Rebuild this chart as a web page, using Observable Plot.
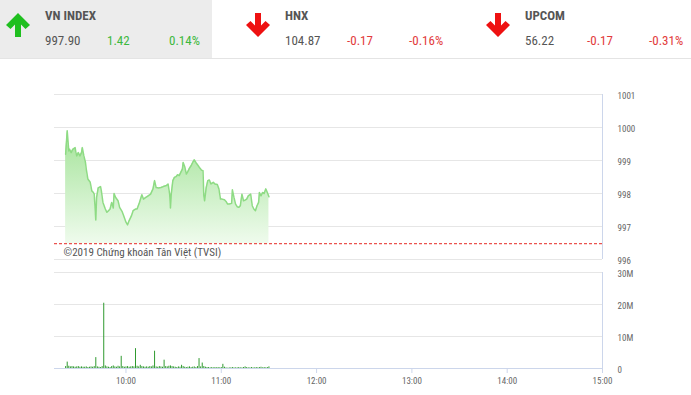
<!DOCTYPE html>
<html><head><meta charset="utf-8">
<script src="https://cdn.jsdelivr.net/npm/d3@7"></script>
<script src="https://cdn.jsdelivr.net/npm/@observablehq/plot@0.6"></script>
<style>
body{margin:0;background:#fff;font-family:"Roboto Condensed","Liberation Sans Narrow",Roboto,sans-serif;}
#wrap{position:relative;width:691px;height:395px;overflow:hidden;background:#fff}
#hdr{position:absolute;left:0;top:0;width:691px;height:58px;border-bottom:1px solid #e4e4e4}
.cell{position:absolute;top:0;height:58px;width:212px}
.cell.first{background:#ececec}
.cell svg.arrow{position:absolute;left:6px;top:13px}
.name{position:absolute;left:45px;top:8px;font-size:13px;font-weight:bold;color:#555;white-space:nowrap}
.val{position:absolute;top:33px;font-size:13px;color:#555;white-space:nowrap}
.up{color:#3cb83c}.down{color:#e23b3b}
#price{position:absolute;left:0;top:84px}
#vol{position:absolute;left:0;top:265px}
</style></head>
<body><div id="wrap"><div id="hdr"></div><div id="price"></div><div id="vol"></div></div>
<script>
// ---- header data ----
const indexNames = ["VN INDEX", "HNX", "UPCOM"];
const indexValues = [997.90, 104.87, 56.22];
const indexChanges = [1.42, -0.17, -0.17];
const indexPct = [0.14, -0.16, -0.31];

// ---- price series (VN-Index, morning session) ----
const priceTimes = ["09:22:00","09:23:00","09:24:00","09:24:30","09:25:30","09:26:30","09:28:00","09:28:30","09:29:00","09:30:00",
"09:31:00","09:32:00","09:32:30","09:33:30","09:34:30","09:35:00","09:36:00","09:37:30","09:38:30","09:39:30",
"09:40:00","09:41:00","09:41:30","09:42:30","09:44:00","09:44:30","09:45:30","09:47:00","09:48:00","09:49:00",
"09:50:00","09:51:00","09:52:00","09:52:30","09:53:30","09:55:00","09:56:00","09:57:30","09:58:30","10:00:00",
"10:01:00","10:02:00","10:03:30","10:04:30","10:06:00","10:07:00","10:08:30","10:10:00","10:11:00","10:12:30",
"10:14:00","10:15:30","10:17:00","10:18:00","10:19:00","10:20:30","10:22:00","10:23:30","10:25:30","10:26:30",
"10:27:30","10:28:00","10:28:30","10:29:30","10:30:30","10:31:30","10:32:30","10:33:30","10:34:30","10:35:30",
"10:36:00","10:37:00","10:38:00","10:39:00","10:40:00","10:41:00","10:42:00","10:43:00","10:44:00","10:45:30",
"10:46:30","10:47:30","10:48:30","10:49:00","10:49:30","10:50:30","10:51:30","10:52:30","10:53:30","10:55:00",
"10:56:00","10:57:30","10:58:30","10:59:30","11:00:30","11:02:00","11:03:00","11:04:00","11:05:00","11:06:30",
"11:07:00","11:08:00","11:09:00","11:10:00","11:11:00","11:12:00","11:13:00","11:14:00","11:15:00","11:16:00",
"11:17:00","11:18:30","11:19:30","11:20:30","11:21:30","11:22:30","11:23:30","11:24:00","11:25:00","11:26:00",
"11:27:00","11:28:00","11:29:00","11:30:00"];
const priceValues = [999.19,999.90,999.29,999.34,999.24,999.34,999.39,999.24,999.14,999.24,
999.14,999.24,999.39,999.14,998.94,998.74,998.44,998.34,998.08,998.03,
997.98,997.20,997.88,998.17,998.21,998.08,997.73,997.53,997.43,997.48,
997.53,997.73,997.56,998.00,997.88,997.78,997.58,997.46,997.33,997.13,
997.05,997.18,997.33,997.48,997.53,997.53,997.73,997.96,997.83,997.88,
997.93,997.98,998.14,998.39,998.18,998.17,998.18,998.21,998.24,998.29,
997.98,997.56,997.98,998.39,998.49,998.51,998.57,998.54,998.64,998.74,
998.94,998.81,998.59,998.67,998.77,998.84,998.94,999.02,998.94,998.84,
998.77,998.71,998.69,997.93,997.78,998.18,998.39,998.41,998.29,998.34,
998.29,998.27,998.14,997.83,997.83,997.81,997.76,997.68,997.68,997.70,
998.11,997.88,997.68,997.60,997.58,997.63,997.98,997.78,997.80,997.83,
997.93,997.98,997.63,997.53,997.48,997.63,997.73,998.03,997.93,998.03,
998.00,998.14,998.03,997.90];
const previousClose = 996.48;

// ---- volume per minute (millions of shares), 09:22 .. 11:30 ----
const volumeStart = "09:22";
const volumeMillions = [0.6,2.0,0.7,0.5,0.6,0.5,0.4,0.5,0.6,0.4, 0.5,0.4,0.4,0.5,0.3,0.4,0.5,0.4,0.6,3.4,
0.5,0.4,0.3,0.6,20.4,0.8,0.5,0.4,0.3,0.6, 0.8,0.5,0.4,0.7,0.5,3.8,0.6,0.4,0.5,0.6,
0.4,0.5,0.6,0.5,6.2,0.7,0.5,1.0,0.6,0.5, 0.4,0.5,0.4,0.6,0.5,0.8,5.4,0.5,0.4,0.6,
0.5,0.4,2.6,0.6,0.5,0.7,0.8,0.6,0.5,0.4, 0.3,0.5,0.4,1.0,0.6,0.4,0.3,0.4,0.5,0.3,
0.4,0.5,0.3,0.6,3.1,0.5,1.7,0.6,0.4,0.3, 0.3,0.2,0.3,0.2,0.3,0.2,0.3,0.2,0.3,1.3,
0.4,0.2,0.1,0.2,0.2,0.3,0.2,0.2,0.2,0.3, 0.2,0.2,0.3,0.5,0.3,0.2,0.2,0.3,0.2,0.2,
0.3,0.2,0.3,0.4,0.2,0.3,0.2,0.3,0.5];

const hourLabels = ["10:00","11:00","12:00","13:00","14:00","15:00"];
const priceTicks = [996, 997, 998, 999, 1000, 1001];
const volumeTicks = [0, 10, 20, 30];
const creditText = "©2019 Chứng khoán Tân Việt (TVSI)";

// ---- helpers ----
const parseT = s => { const [h, m, sec] = s.split(":").map(Number); return new Date(2019, 0, 1, h, m, sec || 0); };
const price = priceTimes.map((t, i) => ({t: parseT(t), v: priceValues[i]}));
const v0 = parseT(volumeStart);
const volume = volumeMillions.map((v, i) => ({t: new Date(+v0 + i * 60000), v}));
const xDomain = [parseT("09:15"), parseT("15:00")];
const hourTicks = hourLabels.map(parseT);
const FONT = '"Roboto Condensed","Liberation Sans Narrow",Roboto,sans-serif';

// ---- header ----
const hdr = document.getElementById("hdr");
const lefts = [0, 240, 480];
indexNames.forEach((name, i) => {
  const up = indexChanges[i] >= 0;
  const cell = document.createElement("div");
  cell.className = "cell" + (i === 0 ? " first" : "");
  cell.style.left = lefts[i] + "px";
  const col = up ? "#1fbf1f" : "#ee1111";
  const pts = up ? "12,0 24,12 19.5,16 15,11.5 15,24 9,24 9,11.5 4.5,16 0,12"
                 : "12,24 24,12 19.5,8 15,12.5 15,0 9,0 9,12.5 4.5,8 0,12";
  cell.innerHTML =
    `<svg class="arrow" width="24" height="24" viewBox="0 0 24 24"><polygon points="${pts}" fill="${col}"/></svg>` +
    `<div class="name">${name}</div>` +
    `<div class="val" style="left:45px">${indexValues[i].toFixed(2)}</div>` +
    `<div class="val ${up ? "up" : "down"}" style="left:107px">${indexChanges[i].toFixed(2)}</div>` +
    `<div class="val ${up ? "up" : "down"}" style="left:169px">${indexPct[i].toFixed(2)}%</div>`;
  hdr.appendChild(cell);
});

// ---- price chart ----
const p1 = Plot.plot({
  width: 691, height: 180, marginTop: 10, marginBottom: 5, marginLeft: 54, marginRight: 89,
  style: {fontFamily: FONT, fontSize: "9px", color: "#666", background: "transparent", overflow: "visible"},
  x: {domain: xDomain, type: "time", axis: null},
  y: {domain: [996, 1001], axis: null},
  marks: [
    Plot.ruleY(priceTicks, {stroke: "#e6e6e6"}),
    Plot.areaY(price, {x: "t", y1: previousClose, y2: "v", fill: "url(#vnGrad)", curve: "linear"}),
    Plot.lineY(price, {x: "t", y: "v", stroke: "#8edb84", strokeWidth: 1.5}),
    Plot.ruleY([previousClose], {stroke: "#e8403c", strokeOpacity: 0.9, strokeDasharray: "3,2", strokeWidth: 1.1}),
    Plot.ruleX([xDomain[1]], {stroke: "#ccd6eb"}),
    Plot.axisY(priceTicks, {anchor: "right", label: null, tickFormat: d => String(d), tickSize: 0, tickPadding: 15, textAnchor: "start", dy: 2, fill: "#666"}),
    Plot.text([creditText], {text: d => d, frameAnchor: "bottom-left", textAnchor: "start", lineAnchor: "bottom", dx: 9, dy: -4, fontSize: 11, fill: "#555"})
  ]
});
d3.select(p1).insert("defs", ":first-child").html(
  '<linearGradient id="vnGrad" x1="0" y1="0" x2="0" y2="1"><stop offset="0" stop-color="#a3e398"/><stop offset="1" stop-color="#effbed"/></linearGradient>');
document.getElementById("price").appendChild(p1);

// ---- volume chart ----
const p2 = Plot.plot({
  width: 691, height: 130, marginTop: 7, marginBottom: 27, marginLeft: 54, marginRight: 89,
  style: {fontFamily: FONT, fontSize: "9px", color: "#666", background: "transparent", overflow: "visible"},
  x: {domain: xDomain, type: "time", axis: null},
  y: {domain: [0, 30], axis: null},
  marks: [
    Plot.ruleY([10, 20, 30], {stroke: "#e6e6e6"}),
    Plot.ruleX(volume, {x: "t", y1: 0, y2: "v", stroke: "#2f9a2f", strokeWidth: 1}),
    Plot.ruleY([0], {stroke: "#ccd6eb"}),
    Plot.ruleX([xDomain[1]], {y1: 0, y2: 30, stroke: "#ccd6eb"}),
    Plot.axisX(hourTicks, {label: null, tickFormat: d3.timeFormat("%H:%M"), tickSize: 5, tickPadding: 4, stroke: "#ccd6eb", fill: "#666"}),
    Plot.axisY(volumeTicks, {anchor: "right", label: null, tickFormat: d => d === 0 ? "0" : d + "M", tickSize: 0, tickPadding: 15, textAnchor: "start", dy: 2, fill: "#666"})
  ]
});
document.getElementById("vol").appendChild(p2);
</script></body></html>
